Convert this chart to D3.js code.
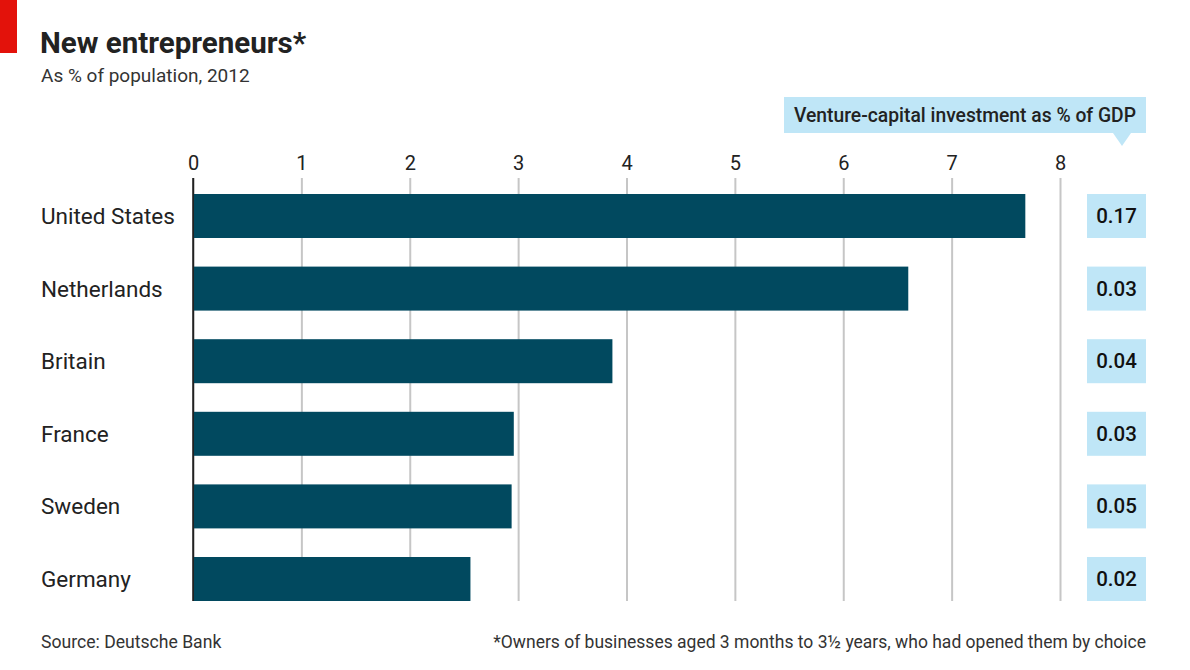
<!DOCTYPE html>
<html>
<head>
<meta charset="utf-8">
<script src="https://cdn.jsdelivr.net/npm/d3@7"></script>
<style>
  body { margin: 0; background: #fff; }
  text { font-family: 'Roboto', 'Open Sans', sans-serif; }
</style>
</head>
<body>
<svg></svg>
<script>
// data

const countries = ['United States', 'Netherlands', 'Britain', 'France', 'Sweden', 'Germany'];
const entrepreneurs = [7.68, 6.60, 3.87, 2.96, 2.94, 2.56];
const ventureCapital = ['0.17', '0.03', '0.04', '0.03', '0.05', '0.02'];
const xTicks = [0, 1, 2, 3, 4, 5, 6, 7, 8];

const data = countries.map((c, i) => ({ country: c, value: entrepreneurs[i], vc: ventureCapital[i] }));

const width = 1190, height = 670;

const svg = d3.select('svg')
  .attr('width', width)
  .attr('height', height);


// red corner rect

svg.append('rect')
  .attr('width', 17)
  .attr('height', 53)
  .style('fill', '#e3120b');


// title + subtitle

svg.append('text')
  .attr('x', 40)
  .attr('y', 53)
  .style('font-size', '29.5px')
  .style('font-weight', 'bold')
  .style('fill', '#222')
  .text('New entrepreneurs*');

svg.append('text')
  .attr('x', 41)
  .attr('y', 82)
  .style('font-size', '19px')
  .style('fill', '#333')
  .text('As % of population, 2012');


// scales

const xScale = d3.scaleLinear()
  .domain([0, 8])
  .range([193, 1060]);

const yScale = d3.scaleBand()
  .domain(countries)
  .range([194, 601])
  .paddingInner(0.394)
  .paddingOuter(0);

const chartTop = 178, chartBottom = 601;


// x-axis with gridlines

const xAxis = d3.axisTop(xScale)
  .tickValues(xTicks)
  .tickSize(chartBottom - chartTop)
  .tickPadding(8)
  .tickFormat(d3.format('d'));

const xAxisG = svg.append('g')
  .attr('class', 'x-axis')
  .attr('transform', `translate(0,${chartBottom})`)
  .call(xAxis);

xAxisG.select('.domain').remove();

xAxisG.selectAll('.tick line')
  .attr('stroke', d => d === 0 ? '#222' : '#c6c6c6')
  .attr('stroke-width', d => d === 0 ? 1.5 : 2);

xAxisG.selectAll('.tick text')
  .style('font-family', "'Roboto', sans-serif")
  .style('font-size', '20px')
  .style('fill', '#222');


// bars

svg.append('g')
  .selectAll('rect')
  .data(data)
  .enter()
    .append('rect')
    .attr('x', xScale(0) + 1)
    .attr('y', d => yScale(d.country))
    .attr('width', d => xScale(d.value) - xScale(0) - 1)
    .attr('height', yScale.bandwidth())
    .style('fill', '#01495f');

// zero line in front of bars
svg.append('line')
  .attr('x1', xScale(0))
  .attr('x2', xScale(0))
  .attr('y1', chartTop)
  .attr('y2', chartBottom)
  .attr('stroke', '#222')
  .attr('stroke-width', 1.5);


// category labels

svg.append('g')
  .selectAll('text')
  .data(data)
  .enter()
    .append('text')
    .attr('x', 41)
    .attr('y', d => yScale(d.country) + yScale.bandwidth() / 2 + 8)
    .style('font-size', '22.5px')
    .style('fill', '#222')
    .text(d => d.country);


// venture-capital column

const boxX = 1087, boxW = 59;

const vcHeader = svg.append('g');

vcHeader.append('rect')
  .attr('x', 784)
  .attr('y', 97)
  .attr('width', 1146 - 784)
  .attr('height', 36)
  .style('fill', '#bfe6f7');

vcHeader.append('path')
  .attr('d', 'M1113,133 L1131,133 L1122,146 Z')
  .style('fill', '#bfe6f7');

vcHeader.append('text')
  .attr('x', 965)
  .attr('y', 122)
  .attr('text-anchor', 'middle')
  .style('font-size', '19.3px')
  .style('font-weight', 500)
  .style('fill', '#222')
  .text('Venture-capital investment as % of GDP');

const vcG = svg.append('g')
  .selectAll('g')
  .data(data)
  .enter()
    .append('g');

vcG.append('rect')
  .attr('x', boxX)
  .attr('y', d => yScale(d.country))
  .attr('width', boxW)
  .attr('height', yScale.bandwidth())
  .style('fill', '#bfe6f7');

vcG.append('text')
  .attr('x', boxX + boxW / 2)
  .attr('y', d => yScale(d.country) + yScale.bandwidth() / 2 + 7)
  .attr('text-anchor', 'middle')
  .style('font-size', '20.5px')
  .style('font-weight', 500)
  .style('fill', '#111')
  .text(d => d.vc);


// footer

svg.append('text')
  .attr('x', 41)
  .attr('y', 648)
  .style('font-size', '17.6px')
  .style('fill', '#333')
  .text('Source: Deutsche Bank');

svg.append('text')
  .attr('x', 1146)
  .attr('y', 648)
  .attr('text-anchor', 'end')
  .style('font-size', '17.5px')
  .style('fill', '#333')
  .text('*Owners of businesses aged 3 months to 3½ years, who had opened them by choice');
</script>
</body>
</html>
